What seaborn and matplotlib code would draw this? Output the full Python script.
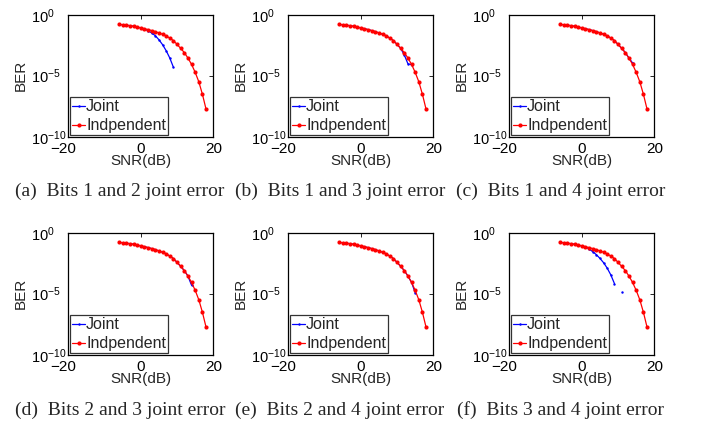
import numpy as np
import pandas as pd
import matplotlib
matplotlib.use("Agg")
import matplotlib.pyplot as plt
import matplotlib.transforms as mtransforms
from matplotlib.lines import Line2D
from matplotlib.ticker import FixedLocator, NullLocator, LogFormatterSciNotation
import seaborn as sns

# ---------------- data ----------------
snr_ind = list(range(-6, 19))
ber_ind = [1.62e-1, 1.51e-1, 1.38e-1, 1.26e-1, 1.12e-1, 9.8e-2, 8.3e-2, 7.1e-2, 6.0e-2,
           5.0e-2, 4.1e-2, 3.2e-2, 2.5e-2, 1.86e-2, 1.20e-2, 7.6e-3, 3.7e-3, 1.74e-3,
           7.9e-4, 2.8e-4, 8.5e-5, 1.9e-5, 3.2e-6, 3.0e-7, 1.8e-8]

snr_a = list(range(-6, 10))
ber_a = [1.62e-1, 1.51e-1, 1.38e-1, 1.26e-1, 1.12e-1, 9.8e-2, 8.3e-2, 6.8e-2, 4.8e-2,
         3.2e-2, 1.9e-2, 8.9e-3, 3.5e-3, 1.12e-3, 2.8e-4, 4.9e-5]

snr_b = list(range(-6, 15))
ber_b = [1.62e-1, 1.51e-1, 1.38e-1, 1.26e-1, 1.12e-1, 9.8e-2, 8.3e-2, 7.1e-2, 6.0e-2,
         5.0e-2, 4.1e-2, 3.2e-2, 2.5e-2, 1.86e-2, 1.20e-2, 7.6e-3, 3.7e-3, 1.74e-3,
         5.0e-4, 9.5e-5, 8.0e-5]

snr_c = list(range(-6, 15))
ber_c = [1.62e-1, 1.51e-1, 1.38e-1, 1.26e-1, 1.12e-1, 9.8e-2, 8.3e-2, 7.1e-2, 6.0e-2,
         5.0e-2, 4.1e-2, 3.2e-2, 2.5e-2, 1.86e-2, 1.20e-2, 7.6e-3, 3.7e-3, 1.74e-3,
         7.9e-4, 2.8e-4, 1.12e-4]

snr_d = list(range(-6, 15))
ber_d = [1.62e-1, 1.51e-1, 1.38e-1, 1.26e-1, 1.12e-1, 9.8e-2, 8.3e-2, 7.1e-2, 6.0e-2,
         5.0e-2, 4.1e-2, 3.2e-2, 2.5e-2, 1.86e-2, 1.20e-2, 7.6e-3, 3.7e-3, 1.74e-3,
         7.9e-4, 2.8e-4, 4.9e-5]

snr_e = list(range(-6, 16))
ber_e = [1.62e-1, 1.51e-1, 1.38e-1, 1.26e-1, 1.12e-1, 9.8e-2, 8.3e-2, 7.1e-2, 6.0e-2,
         5.0e-2, 4.1e-2, 3.2e-2, 2.5e-2, 1.86e-2, 1.20e-2, 7.6e-3, 3.7e-3, 1.74e-3,
         7.9e-4, 2.8e-4, 8.5e-5, 1.2e-5]

snr_f = list(range(-6, 12))
ber_f = [1.62e-1, 1.51e-1, 1.38e-1, 1.26e-1, 1.12e-1, 9.8e-2, 8.3e-2, 6.8e-2, 4.7e-2,
         2.8e-2, 1.6e-2, 7.9e-3, 3.5e-3, 1.26e-3, 3.5e-4, 6.8e-5, np.nan, 1.3e-5]

captions = ["(a)  Bits 1 and 2 joint error", "(b)  Bits 1 and 3 joint error",
            "(c)  Bits 1 and 4 joint error", "(d)  Bits 2 and 3 joint error",
            "(e)  Bits 2 and 4 joint error", "(f)  Bits 3 and 4 joint error"]
joint = [(snr_a, ber_a), (snr_b, ber_b), (snr_c, ber_c),
         (snr_d, ber_d), (snr_e, ber_e), (snr_f, ber_f)]
legend_labels = ["Joint", "Indpendent"]
x_ticks = [-20, 0, 20]
x_tick_labels = ["\u221220", "0", "20"]
y_ticks = [1e-10, 1e-5, 1e0]

# ---------------- style ----------------
sns.set_theme(style="white")
plt.rcParams["font.family"] = ["Liberation Sans", "DejaVu Sans"]
plt.rcParams["mathtext.fontset"] = "custom"
plt.rcParams["mathtext.rm"] = "Liberation Sans"
plt.rcParams["mathtext.it"] = "Liberation Sans:italic"
plt.rcParams["mathtext.bf"] = "Liberation Sans:bold"

fig = plt.figure(figsize=(7.05, 4.21), dpi=100)
W, H = 705, 421
lefts = [68.3, 288.3, 509.3]
tops = [14.7, 232.7]
aw, ah = 145, 122


def segments(x, y):
    seg, sid = [], 0
    prev_nan = False
    for v in y:
        if np.isnan(v):
            prev_nan = True
            seg.append(-1)
            continue
        if prev_nan:
            sid += 1
            prev_nan = False
        seg.append(sid)
    df = pd.DataFrame({"snr": x, "ber": y, "seg": seg})
    return df[df["seg"] >= 0]


ind_df = pd.DataFrame({"snr": snr_ind, "ber": ber_ind, "seg": 0})

for i, (cap, (jx, jy)) in enumerate(zip(captions, joint)):
    r, c = divmod(i, 3)
    ax = fig.add_axes([lefts[c] / W, 1 - (tops[r] + ah) / H, aw / W, ah / H])
    jdf = segments(jx, jy)
    sns.lineplot(data=jdf, x="snr", y="ber", units="seg", estimator=None, ax=ax,
                 color="#0000ff", lw=0.9, marker=".", markersize=3.5,
                 markeredgewidth=0, legend=False)
    sns.lineplot(data=ind_df, x="snr", y="ber", units="seg", estimator=None, ax=ax,
                 color="#ff0000", lw=0.9, marker=".", markersize=6,
                 markeredgewidth=0, legend=False)
    ax.set_yscale("log")
    ax.set_xlim(-20, 20)
    ax.set_ylim(1e-10, 1e0)
    ax.xaxis.set_major_locator(FixedLocator(x_ticks))
    ax.yaxis.set_major_locator(FixedLocator(y_ticks))
    ax.yaxis.set_minor_locator(NullLocator())
    ax.yaxis.set_major_formatter(LogFormatterSciNotation())
    ax.set_xticklabels(x_tick_labels)
    ax.tick_params(direction="in", length=3, width=0.6, top=True, right=True,
                   colors="black")
    ax.tick_params(axis="x", labelsize=11, pad=3.5)
    ax.tick_params(axis="y", labelsize=10.5, pad=27)
    for lab in ax.get_yticklabels():
        lab.set_horizontalalignment("left")
    # shift the "-20" label so its digits sit under the tick
    lab0 = ax.get_xticklabels()[0]
    lab0.set_transform(lab0.get_transform() +
                       mtransforms.ScaledTranslation(-5 / 100, 0, fig.dpi_scale_trans))
    for sp in ax.spines.values():
        sp.set_color("black")
        sp.set_linewidth(0.9)
    ax.set_xlabel("SNR(dB)", fontsize=11, labelpad=-1)
    ax.set_ylabel("BER", fontsize=11, labelpad=2)
    handles = [Line2D([], [], color="#0000ff", lw=0.9, marker=".", markersize=3.5,
                      markeredgewidth=0),
               Line2D([], [], color="#ff0000", lw=0.9, marker=".", markersize=6,
                      markeredgewidth=0)]
    leg = ax.legend(handles, legend_labels, loc="lower left", fontsize=11.5,
                    frameon=True, fancybox=False, borderaxespad=0.1,
                    handlelength=0.85, handletextpad=0.05, borderpad=0.12,
                    labelspacing=0.25)
    leg.get_frame().set_edgecolor("black")
    leg.get_frame().set_linewidth(0.9)
    cx = lefts[c] + aw / 2 - 21
    cy = 191 if r == 0 else 410
    fig.text(cx / W, 1 - cy / H, cap, ha="center", va="center", fontsize=14,
             family=["Liberation Serif", "DejaVu Serif"])

fig.savefig("out.png", dpi=100)
